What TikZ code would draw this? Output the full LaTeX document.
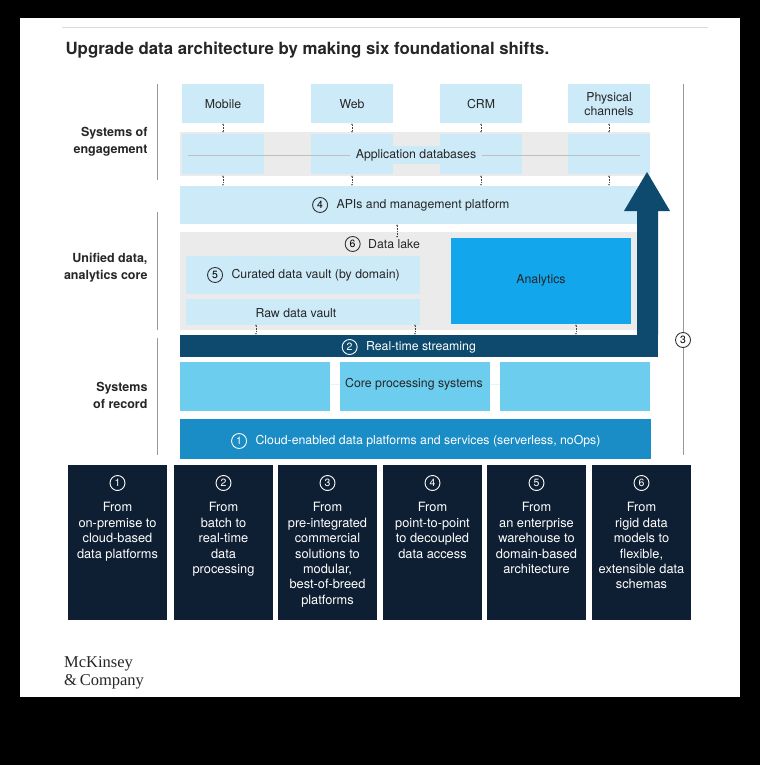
\documentclass[tikz,border=0pt]{standalone}
\usepackage{fontspec}
\setmainfont{TeX Gyre Heros}
\newfontfamily\logofont{Liberation Serif}
\usetikzlibrary{positioning,arrows.meta}

\definecolor{paleblue}{HTML}{CDEAF8}
\definecolor{lakegray}{HTML}{EBEBEB}
\definecolor{skyblue}{HTML}{6CCDEF}
\definecolor{brightblue}{HTML}{12A6EC}
\definecolor{cloudblue}{HTML}{1A8CC6}
\definecolor{streamblue}{HTML}{0D4A6E}
\definecolor{navy}{HTML}{0F1F33}

\tikzset{
  txt/.style={font=\fontsize{12.3}{13.5}\selectfont, align=center, text=black!85},
  side/.style={font=\bfseries\fontsize{12.5}{17}\selectfont, align=right, text=black!85},
  num/.style={circle, draw=black!80, line width=0.9pt, inner sep=0.5pt, minimum size=15pt,
    font=\fontsize{10.5}{11}\selectfont},
  dnum/.style={num, draw=white, text=white},
  link/.style={black!75, line width=0.7pt, dash pattern=on 1.5pt off 1pt, {Latex[length=2pt]}-{Latex[length=2pt]}},
  shiftbox/.style={fill=navy, inner sep=0pt, anchor=north west, minimum width=99pt, minimum height=155pt}
}

\begin{document}
\begin{tikzpicture}[x=1pt,y=-1pt]
\fill[black] (0,0) rectangle (760,765);
\fill[white] (20,18) rectangle (740,697);
\useasboundingbox (0,0) rectangle (760,765);
\draw[black!15] (62,27) -- (708,27);

% title
\node[anchor=west, font=\bfseries\fontsize{16.8}{20}\selectfont, text=black!85] (title) at (62,50)
  {Upgrade data architecture by making six foundational shifts.};

% side labels and rules
\draw[black!40, line width=0.8pt] (157,84) -- (157,180) (157,212) -- (157,330) (157,338) -- (157,455);
\node[side, anchor=east] (engage) at (151,142) {Systems of\\engagement};
\node[side, anchor=east] (core) at (151,268) {Unified data,\\analytics core};
\node[side, anchor=east] (record) at (151,395) {Systems\\of record};
\node[num] (n3) at (683,340) {3};
\draw[black!40, line width=0.8pt] (683,84) -- (n3.north) (n3.south) -- (683,455);

% systems of engagement
\fill[lakegray] (180,132) rectangle (650,176);
\foreach \x/\name/\label in {182/mob/Mobile, 311/web/Web, 440/crm/CRM, 568/phy/{Physical\\channels}} {
  \fill[paleblue] (\x,84) rectangle ++(82,39);
  \node[txt] (\name) at (\x+41,104) {\label};
  \fill[paleblue] (\x,134) rectangle ++(82,40);
  \coordinate (\name t) at (\x+41,123);
  \coordinate (\name m) at (\x+41,133);
  \coordinate (\name b) at (\x+41,175);
  \coordinate (\name a) at (\x+41,186);
  \draw[link] (\name t) -- (\name m);
  \draw[link] (\name b) -- (\name a);
}
\draw[black!25] (188,155) -- (640,155);
\node[txt, fill=paleblue, inner xsep=6pt] (appdb) at (416,155) {Application databases};

% apis
\fill[paleblue] (180,186) rectangle (645,224);
\node[txt] (apis) at (423,205) {APIs and management platform};
\node[num, left=5pt of apis] (n4) {4};

% data lake
\fill[lakegray] (180,232) rectangle (640,330);
\node[txt] (lake) at (394,244) {Data lake};
\node[num, left=4pt of lake] (n6) {6};
\coordinate (apib) at (397,224);
\coordinate (laket) at (397,238);
\draw[link] (apib) -- (laket);
\fill[paleblue] (186,256) rectangle (420,294);
\node[txt, anchor=west] (curated) at (228,275) {Curated data vault (by domain)};
\node[num, left=5pt of curated] (n5) {5};
\fill[paleblue] (186,299) rectangle (420,325);
\node[txt] (raw) at (296,313) {Raw data vault};
\fill[brightblue] (451,238) rectangle (631,324);
\node[txt] (analytics) at (541,280) {Analytics};
\foreach \x [count=\i] in {256,415,576} {
  \coordinate (lk\i) at (\x,324);
  \coordinate (st\i) at (\x,335);
  \draw[link] (lk\i) -- (st\i);
}

% real-time streaming with arrow up
\fill[streamblue] (180,335) -- (658,335) -- (658,211) -- (670,211) -- (647,172)
  -- (624,211) -- (637,211) -- (637,335) -- cycle;
\fill[streamblue] (180,335) rectangle (658,357);
\node[txt, text=white] (stream) at (421,347) {Real-time streaming};
\node[dnum, left=5pt of stream] (n2) {2};

% systems of record
\foreach \x in {180,340,500} \fill[skyblue] (\x,362) rectangle ++(150,49);
\draw[white!80!skyblue] (330,384) -- (340,384) (490,384) -- (500,384);
\node[txt] (coreproc) at (414,384) {Core processing systems};
\fill[cloudblue] (180,419) rectangle (651,459);
\node[txt, text=white] (cloud) at (428,441) {Cloud-enabled data platforms and services (serverless, noOps)};
\node[dnum, left=5pt of cloud] (n1) {1};

% six shifts
\foreach \x/\label [count=\i] in {
  68/{From\\on-premise to\\cloud-based\\data platforms},
  174/{From\\batch to\\real-time\\data\\processing},
  278/{From\\pre-integrated\\commercial\\solutions to\\modular,\\best-of-breed\\platforms},
  383/{From\\point-to-point\\to decoupled\\data access},
  487/{From\\an enterprise\\warehouse to\\domain-based\\architecture},
  592/{From\\rigid data\\models to\\flexible,\\extensible data\\schemas}} {
  \node[shiftbox] (sh\i) at (\x,465) {};
  \node[dnum] (sn\i) at (\x+49.5,483) {\i};
  \node[anchor=north, text=white, align=center, font=\fontsize{12.8}{15.4}\selectfont]
    (sx\i) at (\x+49.5,499) {\label};
}

% logo
\node[anchor=north west, align=left, font=\logofont\fontsize{16.5}{18}\selectfont, text=black!85, inner sep=0pt]
  (logo) at (64,656) {McKinsey\\\&\,Company};
\end{tikzpicture}
\end{document}
